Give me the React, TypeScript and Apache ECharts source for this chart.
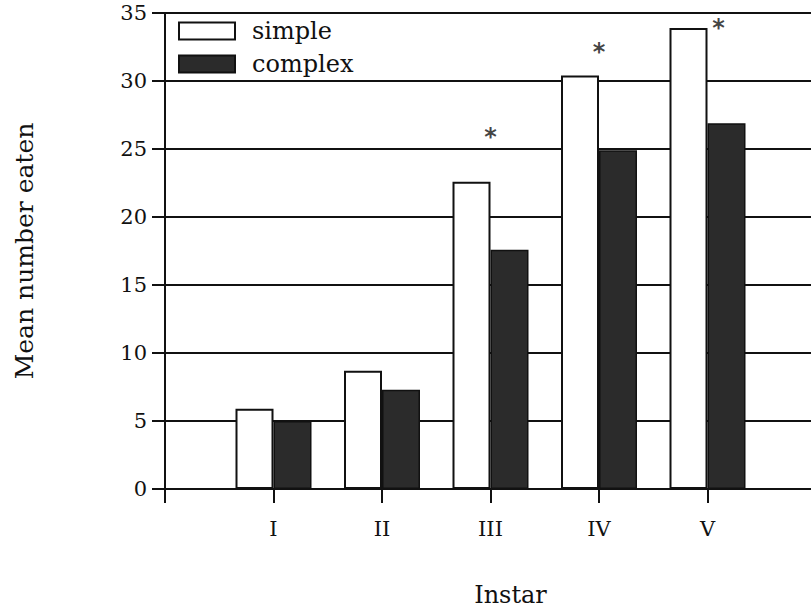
import React, { useEffect, useRef } from "react";
import * as echarts from "echarts";

const categories = ["", "I", "II", "III", "IV", "V", ""];
const simpleValues = ["-", 5.9, 8.7, 22.6, 30.4, 33.9, "-"];
const complexValues = ["-", 5.0, 7.3, 17.6, 24.9, 26.9, "-"];
const asteriskValues = ["-", "-", "-", 26.2, 32.4, 34.2, "-"];
const yTicks = { min: 0, max: 35, interval: 5 };

const FONT = "DejaVu Serif";

export default function App() {
  const ref = useRef<HTMLDivElement>(null);
  useEffect(() => {
    const chart = echarts.init(ref.current!, null, { renderer: "svg" });
    chart.setOption({
      animation: false,
      backgroundColor: "#ffffff",
      textStyle: { fontFamily: FONT, color: "#111" },
      grid: {
        left: 165,
        right: 4,
        top: 13,
        bottom: 122,
        containLabel: false,
        outerBoundsMode: "none",
      },
      legend: {
        left: 173,
        top: 14,
        orient: "vertical",
        itemWidth: 56,
        itemHeight: 17,
        itemGap: 9,
        icon: "rect",
        selectedMode: false,
        textStyle: { fontFamily: FONT, fontSize: 24, color: "#111", padding: [0, 0, 0, 12] },
        data: ["simple", "complex"],
      },
      xAxis: {
        type: "category",
        data: categories,
        boundaryGap: false,
        name: "Instar",
        nameLocation: "middle",
        nameGap: 94,
        nameTextStyle: { fontFamily: FONT, fontSize: 24, color: "#111", padding: [0, 0, 0, 40] },
        axisLine: { show: true, lineStyle: { color: "#111", width: 2 } },
        axisTick: { show: true, length: 14, interval: 0, lineStyle: { color: "#111", width: 2 } },
        axisLabel: { fontFamily: FONT, fontSize: 21, color: "#111", margin: 29, interval: 0 },
        splitLine: { show: false },
      },
      yAxis: {
        type: "value",
        min: yTicks.min,
        max: yTicks.max,
        interval: yTicks.interval,
        name: "Mean number eaten",
        nameLocation: "middle",
        nameGap: 128,
        nameTextStyle: { fontFamily: FONT, fontSize: 25, color: "#111" },
        axisLine: { show: true, lineStyle: { color: "#111", width: 2 } },
        axisTick: { show: true, length: 13, lineStyle: { color: "#111", width: 2 } },
        axisLabel: { fontFamily: FONT, fontSize: 21, color: "#111", margin: 18 },
        splitLine: { show: true, lineStyle: { color: "#111", width: 2 } },
      },
      series: [
        {
          name: "simple",
          type: "bar",
          data: simpleValues,
          barWidth: 38,
          barGap: "0%",
          itemStyle: { color: "#ffffff", borderColor: "#111", borderWidth: 2 },
        },
        {
          name: "complex",
          type: "bar",
          data: complexValues,
          barWidth: 38,
          barGap: "0%",
          itemStyle: { color: "#2b2b2b", borderColor: "#111", borderWidth: 1.5 },
        },
        {
          name: "significance",
          type: "scatter",
          data: asteriskValues.map((v, i) =>
            i === 5 ? { value: v, label: { offset: [11, 4] } } : v
          ),
          symbolSize: 1,
          itemStyle: { color: "rgba(0,0,0,0)" },
          label: {
            show: true,
            position: "inside",
            formatter: "*",
            fontFamily: "DejaVu Sans",
            fontSize: 24,
            fontWeight: "bold",
            color: "#111",
            offset: [0, 4],
          },
          z: 5,
        },
      ],
    });
    return () => chart.dispose();
  }, []);
  return (
    <div style={{ position: "fixed", left: 0, top: 0, width: 811, height: 611, overflow: "hidden" }}>
      <div ref={ref} style={{ width: 820, height: 611 }} />
    </div>
  );
}
